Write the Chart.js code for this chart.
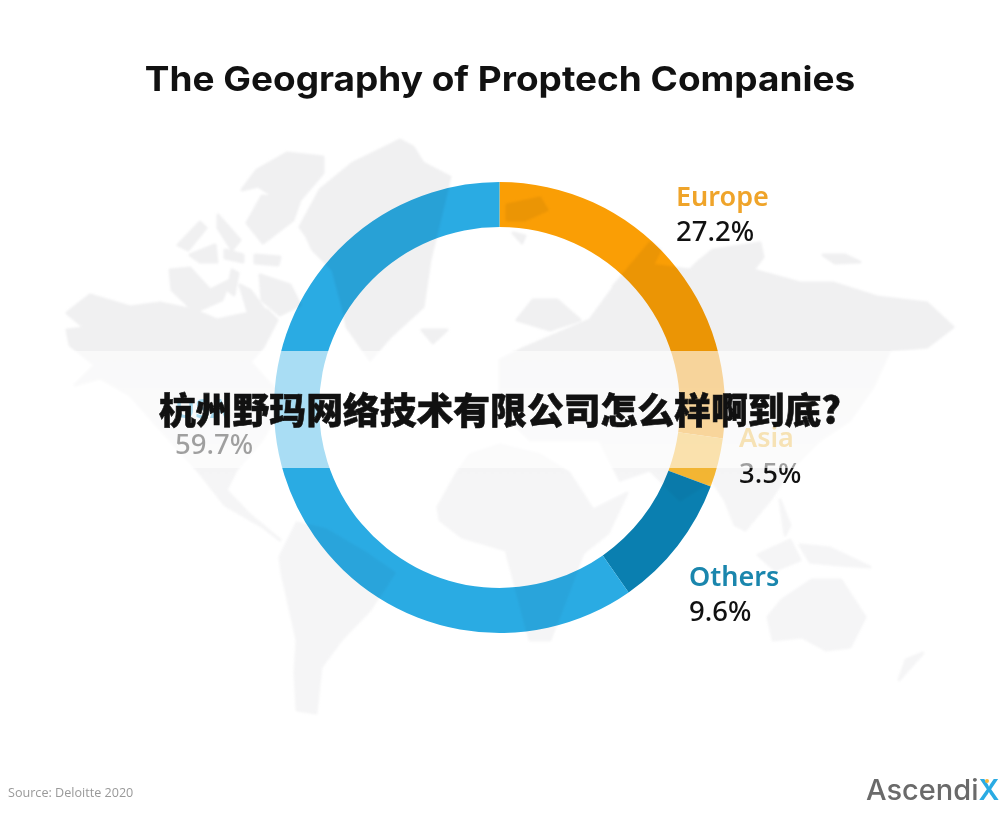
<!DOCTYPE html>
<html lang="zh">
<head>
<meta charset="utf-8">
<title>The Geography of Proptech Companies</title>
<script src="https://cdn.jsdelivr.net/npm/chart.js@4"></script>
<style>
  html, body { margin: 0; padding: 0; background: #fff; }
  #stage { position: relative; width: 1000px; height: 819px; overflow: hidden; background: #fff; }
  #map { position: absolute; left: 0; top: 0; filter: blur(1px); }
  #map path { fill: url(#mapFade); stroke: url(#mapFade); stroke-width: 3; stroke-linejoin: round; }
  #chart { position: absolute; left: 0; top: 0; mix-blend-mode: multiply; }
  #title { position: absolute; left: 0; width: 1000px; top: 57px; margin: 0; text-align: center; color: #111;
    font: 700 34px/44px Inter, sans-serif; white-space: nowrap; transform: scaleX(1.087); }
  #banner { position: absolute; left: 0; top: 351px; width: 1000px; height: 117px; background: rgba(255,255,255,.6); }
  #headline { position: absolute; left: 0; width: 1000px; top: 382px; text-align: center; color: #111; white-space: nowrap;
    font: 900 36.8px/52px "Noto Sans CJK SC", sans-serif; -webkit-text-stroke: .6px #111; }
  #source { position: absolute; left: 8px; top: 785px; color: #999; font: 12.6px/16px "Open Sans", sans-serif; }
  #logo { position: absolute; left: 866px; top: 770px; color: #6a6a6a; font: 500 29px/40px Inter, sans-serif; white-space: nowrap; }
  #logo b { color: #2aabe3; font-weight: 600; }
  #logodot { position: absolute; left: 985px; top: 779px; width: 4px; height: 4px; border-radius: 2px; background: #f5b53a; }
</style>
</head>
<body>
<div id="stage">
  <svg id="map" width="1000" height="819" viewBox="0 0 1000 819">
    <defs>
      <linearGradient id="mapFade" gradientUnits="userSpaceOnUse" x1="0" y1="340" x2="0" y2="480">
        <stop offset="0" stop-color="#f0f0f1"/>
        <stop offset="1" stop-color="#f5f5f6"/>
      </linearGradient>
    </defs>
    <path d="M300 227L320 190L353 163L400 140L413 147L423 163L450 177L430 260L423 307L390 337L370 360L347 327L343 307L333 270L313 250L307 237Z"/>
    <path d="M242 190L257 170L287 153L323 157L323 173L300 200L293 220L263 243L247 223L262 196L275 197L258 186Z"/>
    <path d="M178 245L200 222L206 228L188 250ZM190 255L215 245L217 262L200 262ZM218 215L240 240L232 250L218 228ZM225 250L243 255L243 262L225 258ZM255 255L280 257L278 265L255 263ZM170 270L190 268L210 290L230 280L222 300L195 312L172 290ZM232 270L238 273L234 295L228 290ZM260 275L290 285L300 305L280 315L262 300ZM240 285L250 290L272 320L250 318Z"/>
    <path d="M67 313L90 295L130 307L160 303L193 310L217 320L240 315L267 310L277 320L263 347L250 362L285 400L262 440L236 470L226 490L250 515L280 540L263 527L225 505L200 473L170 440L130 395L100 378L75 385L95 365L70 345L67 330L85 328Z"/>
    <path d="M422 330L447 330L433 343Z"/>
    <path d="M280 557L297 523L326 530L365 553L394 573L370 610L341 640L321 667L316 713L297 710L295 673L297 640L282 573Z"/>
    <path d="M438 507L457 473L470 455L500 445L540 455L569 473L593 510L627 493L608 533L583 553L569 590L550 640L530 640L516 587L506 550L462 537L440 520Z"/>
    <path d="M500 360L520 350L590 320L612 290L650 265L690 270L697 263L713 250L760 243L763 257L753 270L800 283L833 283L877 297L927 303L953 327L927 347L890 350L873 387L850 420L820 440L790 470L770 500L745 530L735 525L725 500L712 480L680 500L650 470L620 480L600 440L560 440L530 440L500 410Z"/>
    <path d="M613 287L650 243L660 250L640 290ZM507 205L540 198L547 210L525 220L507 220ZM513 233L525 236L522 243ZM517 320L533 300L557 300L580 320L550 330ZM823 255L845 255L860 262L835 263Z"/>
    <path d="M758 555L790 540L800 560L775 570ZM800 545L830 548L870 567L840 565L810 562ZM780 500L790 525L785 535Z"/>
    <path d="M768 617L782 600L812 580L841 580L865 617L850 647L826 650L802 637L773 640Z"/>
    <path d="M923 653L899 680L906 660Z"/>
  </svg>
  <h1 id="title">The Geography of Proptech Companies</h1>
  <canvas id="chart" width="1000" height="819"></canvas>
  <div id="banner"></div>
  <div id="headline">杭州野玛网络技术有限公司怎么样啊到底?</div>
  <div id="source">Source: Deloitte 2020</div>
  <div id="logo">Ascendi<b>X</b></div>
  <div id="logodot"></div>
</div>
<script>
const categories = ["Europe", "Asia", "Others", "USA"];
const shares = [27.2, 3.5, 9.6, 59.7];
const sliceColors = ["#fa9e05", "#fdbd35", "#0a7fb0", "#2aabe3"];
const nameColors = ["#efa42a", "#f5c04a", "#1a86ad", "#29abe2"];
const labelLeft = [676, 739, 689, 175];
const nameBaseline = [206, 447, 586, 418];
const valueBaseline = [241, 483, 621, 454];

const sliceLabels = {
  id: "sliceLabels",
  afterDraw(chart) {
    const ctx = chart.ctx;
    ctx.save();
    ctx.textAlign = "left";
    categories.forEach((name, i) => {
      ctx.font = '600 27px "Noto Sans", sans-serif';
      ctx.fillStyle = nameColors[i];
      ctx.fillText(name, labelLeft[i], nameBaseline[i]);
      ctx.font = '500 27.5px "Noto Sans", sans-serif';
      ctx.fillStyle = "#111";
      ctx.fillText(shares[i] + "%", labelLeft[i], valueBaseline[i]);
    });
    ctx.restore();
  },
};

new Chart(document.getElementById("chart"), {
  type: "doughnut",
  data: {
    labels: categories,
    datasets: [
      {
        data: shares,
        backgroundColor: sliceColors,
        borderWidth: 0,
      },
    ],
  },
  options: {
    responsive: false,
    animation: false,
    cutout: "80%",
    layout: { padding: { left: 274, right: 275, top: 182, bottom: 186 } },
    plugins: { legend: { display: false }, tooltip: { enabled: false } },
  },
  plugins: [sliceLabels],
});
</script>
</body>
</html>
